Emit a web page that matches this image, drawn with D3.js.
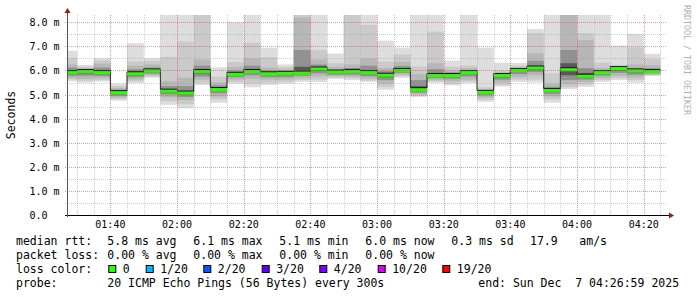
<!DOCTYPE html>
<html>
<head>
<meta charset="utf-8">
<script src="https://cdn.jsdelivr.net/npm/d3@7"></script>
<style>
  body { margin: 0; background: #fff; }
  text { font-family: "DejaVu Sans Mono", monospace; white-space: pre; }
</style>
</head>
<body>
<script>
const WIDTH = 697;
const HEIGHT = 297;

// end time of each 5 minute step (the first one is cut by the graph start)
const times = ["01:30","01:35","01:40","01:45","01:50","01:55","02:00","02:05","02:10","02:15",
  "02:20","02:25","02:30","02:35","02:40","02:45","02:50","02:55","03:00","03:05",
  "03:10","03:15","03:20","03:25","03:30","03:35","03:40","03:45","03:50","03:55",
  "04:00","04:05","04:10","04:15","04:20","04:25"];

// median rtt, ms
const median = [5.93,5.98,5.93,5.10,5.88,6.00,5.16,5.08,5.98,5.23,
  5.86,5.98,5.88,5.90,5.91,6.08,5.95,5.98,5.93,5.82,
  6.02,5.22,5.81,5.81,5.93,5.11,5.81,6.02,6.12,5.19,
  6.05,5.78,5.93,6.10,6.00,5.98];

// sorted pings (ms) for the smoke: upper ranks 20,19,18,16,13
const ping20 = [6.82,6.23,6.51,5.45,7.13,6.51,9,9,9,6.13, 8.00,9,6.94,6.25,9,9,6.70,9,9,7.24,
  6.95,9,9,6.41,9,6.95,6.32,6.31,7.72,9, 9,9,9,7.03,7.52,6.69];
const ping19 = [6.50,6.15,6.42,5.35,6.38,6.40,6.57,7.20,9,5.74, 6.35,7.15,6.55,6.15,8.33,6.85,6.30,9,7.89,6.37,
  6.66,6.16,7.61,6.15,6.20,5.30,6.00,6.20,7.56,5.88, 9,7.55,6.32,6.23,6.96,6.47];
const ping18 = [6.25,6.08,6.28,5.28,6.20,6.25,5.55,5.70,6.45,5.50, 6.15,6.50,6.12,6.05,8.20,6.45,6.15,6.25,6.50,6.10,
  6.35,5.85,6.30,6.00,6.10,5.22,5.92,6.12,6.71,5.45, 9,7.27,6.10,6.17,6.25,6.22];
const ping16 = [6.12,6.03,6.12,5.20,6.05,6.12,5.35,5.35,6.20,5.38, 6.00,6.20,6.00,5.98,6.85,6.25,6.05,6.10,6.20,5.97,
  6.18,5.60,6.05,5.92,6.02,5.17,5.87,6.07,6.40,5.32, 6.85,6.10,6.02,6.13,6.10,6.08];
const ping13 = [6.02,6.00,6.02,5.15,5.95,6.04,5.22,5.15,6.05,5.28, 5.92,6.05,5.93,5.94,6.15,6.15,6.00,6.03,6.02,5.90,
  6.08,5.35,5.90,5.86,5.97,5.14,5.84,6.04,6.20,5.25, 6.30,5.90,5.98,6.11,6.04,6.02];
// lower ranks 8,5,3,2,1
const ping8 = [5.85,5.88,5.85,5.02,5.80,5.93,5.08,5.00,5.88,5.15, 5.80,5.90,5.82,5.82,5.85,5.98,5.88,5.90,5.85,5.72,
  5.96,5.15,5.75,5.74,5.85,5.05,5.72,5.95,6.02,5.12, 5.80,5.70,5.86,6.00,5.92,5.93];
const ping5 = [5.78,5.78,5.77,4.95,5.72,5.87,5.00,4.90,5.75,5.05, 5.72,5.80,5.72,5.72,5.78,5.88,5.82,5.82,5.76,5.60,
  5.90,5.08,5.68,5.65,5.75,4.97,5.62,5.85,5.93,5.02, 5.60,5.62,5.78,5.90,5.82,5.88];
const ping3 = [5.68,5.65,5.68,4.88,5.62,5.80,4.88,4.77,5.62,4.92, 5.62,5.65,5.62,5.62,5.68,5.75,5.76,5.74,5.66,5.45,
  5.82,5.00,5.60,5.55,5.62,4.88,5.50,5.72,5.80,4.92, 5.42,5.52,5.68,5.78,5.70,5.83];
const ping2 = [5.62,5.57,5.60,4.82,5.55,5.75,4.72,4.60,5.50,4.80, 5.52,5.45,5.50,5.53,5.60,5.62,5.70,5.67,5.58,5.32,
  5.76,4.95,5.54,5.45,5.54,4.78,5.40,5.62,5.62,4.80, 5.30,5.42,5.60,5.68,5.60,5.80];
const ping1 = [5.55,5.49,5.54,4.75,5.48,5.70,4.57,4.43,5.40,4.66, 5.45,5.30,5.40,5.45,5.53,5.52,5.65,5.60,5.53,5.20,
  5.70,4.90,5.49,5.38,5.47,4.70,5.33,5.53,5.50,4.66, 5.22,5.32,5.53,5.60,5.49,5.77];

const yTicks = [0,1,2,3,4,5,6,7,8];
const yTickLabels = ["0.0  ","1.0 m","2.0 m","3.0 m","4.0 m","5.0 m","6.0 m","7.0 m","8.0 m"];

const lossColors = ["#26ff00","#00b8ff","#0059ff","#5e00ff","#7e00ff","#dd00ff","#ff0000"];
const lossLabels = ["0","1/20","2/20","3/20","4/20","10/20","19/20"];

const statsRtt = ["5.8 ms avg","6.1 ms max","5.1 ms min","6.0 ms now","0.3 ms sd"];
const statsLoss = ["0.00 % avg","0.00 % max","0.00 % min","0.00 % now"];

function setup(){
    let svg = d3.select("body")
        .append("svg")
        .attr("width",WIDTH)
        .attr("height",HEIGHT);

    let parse = d3.timeParse("%Y-%m-%d %H:%M:%S");
    let start = parse("2025-12-07 01:26:59");
    let end = parse("2025-12-07 04:26:59");
    let x = d3.scaleTime().domain([start,end]).range([67,667]);
    let y = d3.scaleLinear().domain([0,200/24.09]).range([215,15]);

    let bars = times.map((t,i) => {
        let te = parse("2025-12-07 " + t + ":00");
        let ts = d3.timeMinute.offset(te,-5);
        if(ts < start) ts = start;
        return {ts, te, med: median[i],
            hi: [ping20[i],ping19[i],ping18[i],ping16[i],ping13[i]],
            lo: [ping1[i],ping2[i],ping3[i],ping5[i],ping8[i]]};
    });

    svg.append("clipPath").attr("id","canvas")
        .append("rect").attr("x",67).attr("y",15).attr("width",600).attr("height",200);

    // smoke
    let smokeColors = ["#dddddd","#cacaca","#b7b7b7","#919191","#585858"];
    let smoke = svg.append("g").attr("clip-path","url(#canvas)");
    smokeColors.forEach((c,l) => {
        smoke.selectAll(".s"+l)
            .data(bars)
            .enter()
            .append("rect")
            .attr("x",d => x(d.ts))
            .attr("width",d => x(d.te)-x(d.ts))
            .attr("y",d => y(Math.min(d.hi[l],8.4)))
            .attr("height",d => y(d.lo[l]) - y(Math.min(d.hi[l],8.4)))
            .style("fill",c);
    });

    // median step line
    let pts = [];
    bars.forEach(d => { pts.push([x(d.ts),y(d.med)-1.5]); pts.push([x(d.te),y(d.med)-1.5]); });
    svg.append("path")
        .attr("d",d3.line()(pts))
        .style("fill","none")
        .style("stroke","#111")
        .style("stroke-width",1);
    svg.selectAll(".med")
        .data(bars)
        .enter()
        .append("rect")
        .attr("x",d => x(d.ts))
        .attr("width",d => x(d.te)-x(d.ts))
        .attr("y",d => y(d.med)-1)
        .attr("height",3)
        .style("fill",lossColors[0]);

    // grid
    let grid = svg.append("g").attr("shape-rendering","crispEdges");
    let minorY = d3.range(1,17).map(v => v/2);
    grid.selectAll(".hmin").data(minorY).enter().append("line")
        .attr("x1",65).attr("x2",667)
        .attr("y1",d => Math.round(y(d))+0.5).attr("y2",d => Math.round(y(d))+0.5)
        .style("stroke",d => d%1 ? "rgba(150,150,150,0.45)" : "rgba(222,70,70,0.55)")
        .style("stroke-dasharray","1,1");
    let minorX = d3.timeMinute.every(5).range(start,end);
    grid.selectAll(".vmin").data(minorX).enter().append("line")
        .attr("y1",15).attr("y2",217)
        .attr("x1",d => Math.round(x(d))+0.5).attr("x2",d => Math.round(x(d))+0.5)
        .style("stroke",d => d.getMinutes()%20 ? "rgba(150,150,150,0.45)" : "rgba(222,70,70,0.55)")
        .style("stroke-dasharray","1,1");

    // axes
    svg.append("line").attr("x1",65).attr("x2",669).attr("y1",215.5).attr("y2",215.5)
        .style("stroke","#000");
    svg.append("line").attr("x1",67.5).attr("x2",67.5).attr("y1",217).attr("y2",12)
        .style("stroke","#555");
    svg.append("path").attr("d","M669,212.5L674,215.5L669,218.5Z").style("fill","#a01818");
    svg.append("path").attr("d","M64.5,13L67.5,8L70.5,13Z").style("fill","#a01818");

    // tick labels
    svg.selectAll(".yl").data(yTicks).enter().append("text")
        .attr("x",29.5).attr("y",d => y(d)+0.5)
        .attr("dominant-baseline","central")
        .style("font-size","10px")
        .text((d,i) => yTickLabels[i]);
    svg.selectAll(".xl").data(d3.timeMinute.every(20).range(start,end)).enter().append("text")
        .attr("x",d => x(d)).attr("y",224.5)
        .attr("text-anchor","middle")
        .attr("dominant-baseline","central")
        .style("font-size","10px")
        .text(d3.timeFormat("%H:%M"));

    svg.append("text")
        .attr("transform","translate(11,115) rotate(-90)")
        .attr("text-anchor","middle")
        .attr("dominant-baseline","central")
        .style("font-size","11.5px")
        .text("Seconds");
    svg.append("text")
        .attr("transform","translate(686.5,60) rotate(90)")
        .attr("text-anchor","middle")
        .attr("dominant-baseline","central")
        .style("font-size","8.3px")
        .style("fill","#b0b0b0")
        .text("RRDTOOL / TOBI OETIKER");

    // legend
    let leg = svg.append("g").style("font-size","11.5px");
    function put(tx,ty,s){
        leg.append("text").attr("x",tx).attr("y",ty)
            .attr("dominant-baseline","central").text(s);
    }
    put(16,241,"median rtt:");
    statsRtt.forEach((s,i) => put(107.3+86*i,241,s));
    put(530,241,"17.9");
    put(579.3,241,"am/s");
    put(16,255,"packet loss:");
    statsLoss.forEach((s,i) => put(107.3+86*i,255,s));
    put(16,269,"loss color:");
    let swX = [108.3,145.7,203.3,261.7,319.3,377.7,442.3];
    lossColors.forEach((c,i) => {
        leg.append("rect").attr("x",swX[i]+0.5).attr("y",265.5).attr("width",7).attr("height",7)
            .style("fill",c).style("stroke","#000");
        put(swX[i]+14.5,269,lossLabels[i]);
    });
    put(16,283.3,"probe:");
    put(107.3,283.3,"20 ICMP Echo Pings (56 Bytes) every 300s");
    put(478.3,283.3,"end: Sun Dec  7 04:26:59 2025");
}

window.addEventListener("load",setup);
</script>
</body>
</html>
